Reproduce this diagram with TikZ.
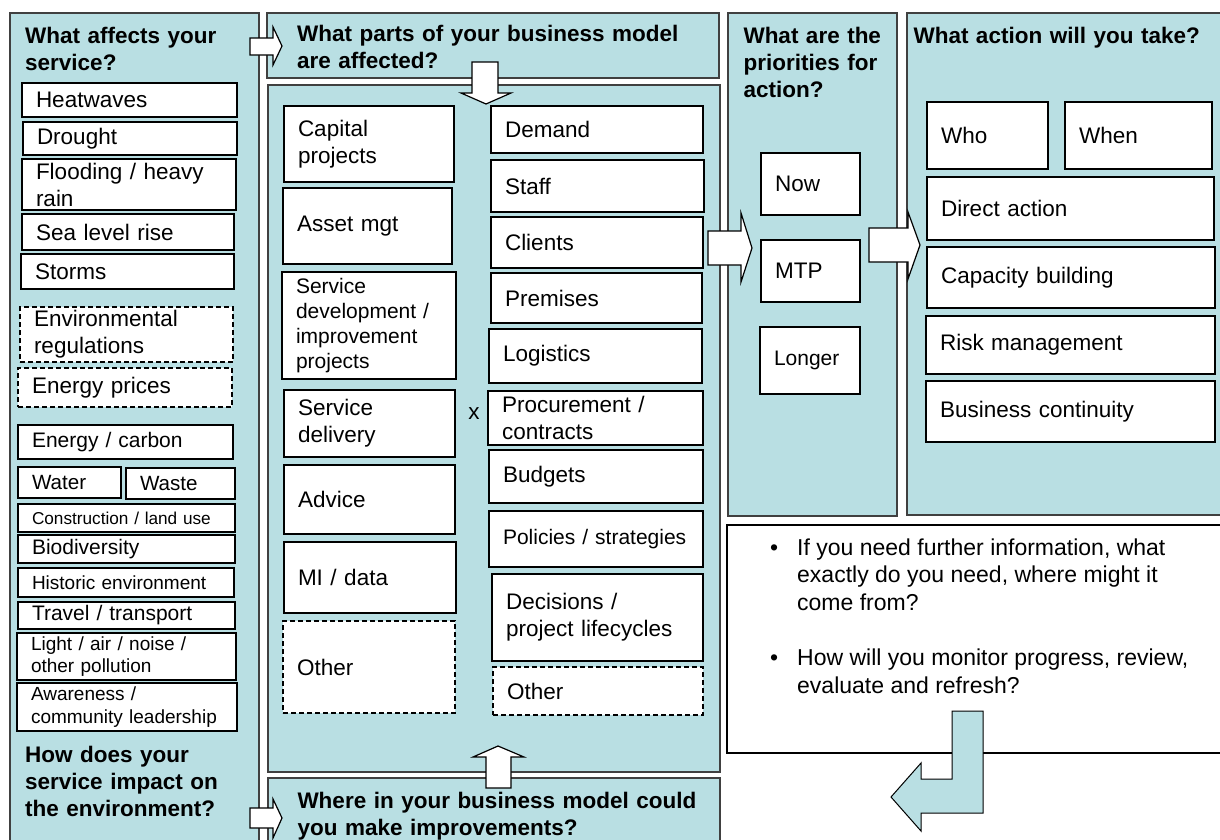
\documentclass[tikz,border=0pt]{standalone}
\usepackage{fontspec}
\setmainfont{Liberation Sans}
\usetikzlibrary{positioning}

\definecolor{paleblue}{RGB}{185,223,227}
\definecolor{framegray}{RGB}{64,64,64}

\tikzset{
  fs/.style={font=\linespread{1.2}\fontsize{#1}{#1}\selectfont},
}

\begin{document}
\begin{tikzpicture}[
        x=1pt, y=-1pt,
        panel/.style 2 args={rectangle, draw=framegray, line width=1.5pt, fill=paleblue, anchor=north west,
            inner sep=0pt, outer sep=0pt, minimum width=#1pt, minimum height=#2pt},
        cell/.style 2 args={rectangle, draw, line width=1.4pt, fill=white, anchor=north west,
            inner xsep=14pt, inner ysep=0pt, outer sep=0pt, minimum width=#1pt, minimum height=#2pt,
            text width=#1pt-28pt, align=left, fs=22.5},
        optbox/.style={dash pattern=on 5pt off 3pt, line width=1.8pt},
        head/.style={anchor=base west, inner sep=0pt, text width=440pt, align=left,
            font=\linespread{1.2}\fontsize{22.5}{22.5}\selectfont\bfseries},
        blockarrow/.style={draw, line width=1.2pt, fill=white, line join=miter},
        ]
        \useasboundingbox (0,0) rectangle (1220,839);
        \clip (0,0) rectangle (1220,839);

        % Panels
        \node (affects)    [panel={249}{840}] at (10,13) {};
        \node (parts)      [panel={452}{65}]  at (267,13) {};
        \node (model)      [panel={452}{687}] at (268,85) {};
        \node (improve)    [panel={452}{70}]  at (268,778) {};
        \node (priorities) [panel={169}{503}] at (728,13) {};
        \node (action)     [panel={320}{502}] at (907,13) {};
        \node (info)       [panel={500}{228}, draw=black, fill=white] at (727,525) {};

        % Headings
        \node (hAffects)    [head] at (25,43.5)    {What affects your\\service?};
        \node (hParts)      [head] at (297,41.7)   {What parts of your business model\\are affected?};
        \node (hPriorities) [head] at (743.3,43.3) {What are the\\priorities for\\action?};
        \node (hAction)     [head] at (913.3,43.3) {What action will you take?};
        \node (hImpact)     [head] at (25,762)     {How does your\\service impact on\\the environment?};
        \node (hImprove)    [head] at (297.3,808.3) {Where in your business model could\\you make improvements?};

        % What affects your service
        \node (heat)      [cell={215}{34}] at (22,83)  {Heatwaves};
        \node (drought)   [cell={214}{33}] at (23,122) {Drought};
        \node (flood)     [cell={214}{51}] at (22,159) {Flooding / heavy\\rain};
        \node (sea)       [cell={212}{36}] at (22,214) {Sea level rise};
        \node (storms)    [cell={213}{35}] at (21,254) {Storms};
        \node (regs)      [cell={213}{55}, optbox] at (20,307) {Environmental\\regulations};
        \node (prices)    [cell={214}{39}, optbox] at (18,368) {Energy prices};
        \node (carbon)    [cell={215}{34}, fs=21]   at (18,425) {Energy / carbon};
        \node (water)     [cell={103}{31}, fs=20.6] at (18,467) {Water};
        \node (waste)     [cell={109}{31}, fs=20.6] at (126,468) {Waste};
        \node (landuse)   [cell={217}{28}, fs=17.2] at (18,504) {Construction / land use};
        \node (biodiv)    [cell={217}{28}, fs=21]   at (18,535) {Biodiversity};
        \node (historic)  [cell={216}{29}, fs=19]   at (18,568) {Historic environment};
        \node (travel)    [cell={217}{27}, fs=21]   at (18,602) {Travel / transport};
        \node (pollution) [cell={219}{47}, fs=19]   at (17,633) {Light / air / noise /\\other pollution};
        \node (awareness) [cell={220}{48}, fs=19]   at (17,683) {Awareness /\\community leadership};

        % Business model, left column
        \node (capital)  [cell={170}{76}]  at (284,106) {Capital\\projects};
        \node (asset)    [cell={169}{76}]  at (283,188) {Asset mgt};
        \node (servdev)  [cell={174}{107}, fs=21] at (282,272) {Service\\development /\\improvement\\projects};
        \node (delivery) [cell={171}{67}]  at (284,390) {Service\\delivery};
        \node (advice)   [cell={171}{69}]  at (284,465) {Advice};
        \node (midata)   [cell={172}{71}]  at (284,542) {MI / data};
        \node (otherA)   [cell={172}{92}, optbox] at (283,621) {Other};

        % Business model, right column
        \node (demand)    [cell={212}{47}] at (491,106) {Demand};
        \node (staff)     [cell={213}{52}] at (491,160) {Staff};
        \node (clients)   [cell={212}{51}] at (491,217) {Clients};
        \node (premises)  [cell={211}{50}] at (491,273) {Premises};
        \node (logistics) [cell={213}{54}] at (489,329) {Logistics};
        \node (procure)   [cell={215}{54}] at (488,391) {Procurement /\\contracts};
        \node (budgets)   [cell={214}{53}] at (489,450) {Budgets};
        \node (policies)  [cell={214}{56}, fs=21] at (489,511) {Policies / strategies};
        \node (decisions) [cell={211}{87}] at (492,574) {Decisions /\\project lifecycles};
        \node (otherB)    [cell={210}{48}, optbox] at (493,667) {Other};
        \node (cross)     [inner sep=0pt, fs=22.5] at (474,414) {x};

        % Priorities
        \node (now)    [cell={99}{62}]  at (761,153) {Now};
        \node (mtp)    [cell={99}{62}]  at (761,240) {MTP};
        \node (longer) [cell={100}{67}, fs=21] at (760,327) {Longer};

        % Actions
        \node (who)        [cell={121}{67}] at (927,102)  {Who};
        \node (when)       [cell={147}{67}] at (1065,102) {When};
        \node (direct)     [cell={287}{63}] at (927,177)  {Direct action};
        \node (capacity)   [cell={288}{61}] at (927,247)  {Capacity building};
        \node (risk)       [cell={289}{58}] at (926,316)  {Risk management};
        \node (continuity) [cell={289}{61}] at (926,381)  {Business continuity};

        % Notes
        \node (notes) [anchor=base west, inner sep=0pt, fs=23] at (770,555) {%
            \begin{tabular}[t]{@{}p{27pt}@{}l@{}}
            \textbullet & If you need further information, what\\
             & exactly do you need, where might it\\
             & come from?\\
             & \\
            \textbullet & How will you monitor progress, review,\\
             & evaluate and refresh?
            \end{tabular}};

        % Block arrows
        \draw[blockarrow] (250,38) -- (273,38) -- (273,27) -- (282,46) -- (273,65) -- (273,55) -- (250,55) -- cycle;
        \draw[blockarrow] (250,808) -- (273,808) -- (273,799) -- (282,818) -- (273,838) -- (273,828) -- (250,828) -- cycle;
        \draw[blockarrow] (472,62) -- (498,62) -- (498,93) -- (511,93) -- (486,104) -- (461,93) -- (472,93) -- cycle;
        \draw[blockarrow] (486,788) -- (511,788) -- (511,757) -- (524,757) -- (498,746) -- (473,757) -- (486,757) -- cycle;
        \draw[blockarrow] (708,231) -- (741,231) -- (741,213) -- (752,248) -- (741,282) -- (741,265) -- (708,265) -- cycle;
        \draw[blockarrow] (869,228) -- (908,228) -- (908,212) -- (920,245) -- (908,279) -- (908,262) -- (869,262) -- cycle;
        \draw[blockarrow, fill=paleblue, line width=1pt]
            (952,711) -- (983,711) -- (983,813) -- (921,813) -- (921,831) -- (891,797)
            -- (921,763) -- (921,779) -- (952,779) -- cycle;

    \end{tikzpicture}
\end{document}
